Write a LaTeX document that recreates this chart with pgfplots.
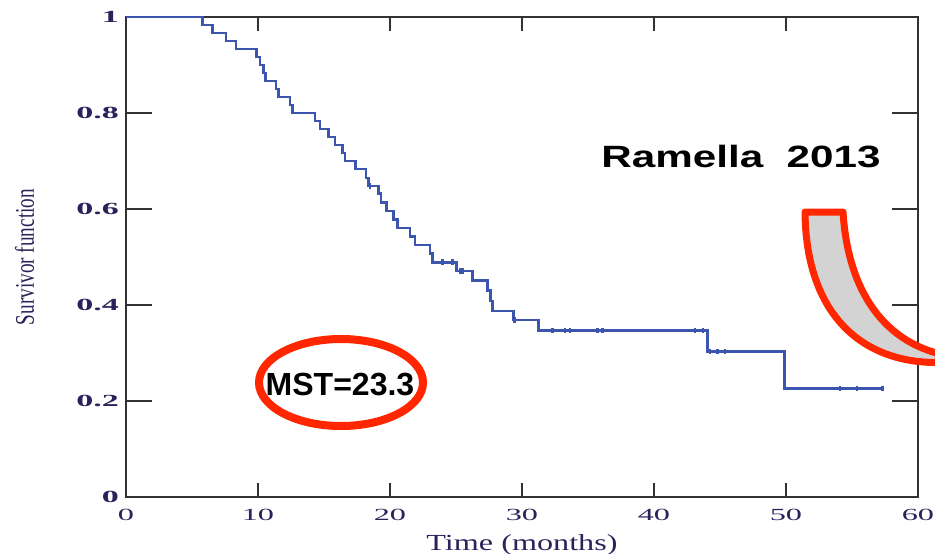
\documentclass[border=0pt]{standalone}
\usepackage{fontspec}
\setmainfont{Liberation Serif}
\newfontfamily\tickfont[FakeStretch=1.9]{Liberation Serif}
\newfontfamily\ytickfont[FakeStretch=2.0]{Liberation Serif}
\newfontfamily\labfont[FakeStretch=1.4]{Liberation Serif}
\newfontfamily\ramfont[FakeStretch=1.37]{Liberation Sans}
\newfontfamily\mstfont{Liberation Sans}
\usepackage{graphicx}
\usepackage{pgfplots}
\pgfplotsset{compat=1.18}
\definecolor{kmblue}{RGB}{60,85,175}
\definecolor{navy}{RGB}{40,35,90}
\definecolor{axgray}{RGB}{50,50,50}
\definecolor{annred}{RGB}{255,38,0}
\definecolor{fillgray}{RGB}{211,211,211}

\pgfplotstableread{
t S
0 1
5.81 0.983
6.57 0.967
7.58 0.95
8.33 0.933
9.90 0.917
10.15 0.90
10.40 0.883
10.58 0.867
11.36 0.85
11.54 0.833
12.42 0.817
12.63 0.80
14.32 0.783
14.70 0.767
15.33 0.75
15.83 0.733
16.41 0.717
16.59 0.70
17.40 0.683
18.20 0.665
18.36 0.648
19.12 0.632
19.32 0.614
19.75 0.596
20.25 0.578
20.56 0.56
21.52 0.543
21.89 0.525
23.03 0.507
23.23 0.489
25.05 0.471
26.26 0.451
27.40 0.43
27.60 0.408
27.78 0.388
29.34 0.369
31.24 0.347
44.07 0.303
49.87 0.226
57.30 0.226
}\kmdata

\pgfplotstableread{
t S
18.48 0.648
23.99 0.489
24.75 0.489
25.35 0.471
25.55 0.471
29.43 0.369
32.32 0.347
33.26 0.347
33.64 0.347
35.71 0.347
36.11 0.347
43.11 0.347
43.69 0.347
44.24 0.303
44.80 0.303
45.38 0.303
54.09 0.226
55.40 0.226
57.30 0.226
}\censdata

\begin{document}
\begin{tikzpicture}
\begin{axis}[
  at={(0,0)}, anchor=south west,
  scale only axis, width=396pt, height=240pt,
  xmin=0, xmax=60, ymin=0, ymax=1,
  xtick={0,10,20,30,40,50,60},
  ytick={0,0.2,0.4,0.6,0.8,1},
  yticklabels={0,0.2,0.4,0.6,0.8,1},
  axis line style={axgray, line width=1pt},
  tick style={axgray, line width=0.9pt},
  xtick style={/pgfplots/major tick length=7pt},
  ytick style={/pgfplots/major tick length=13pt},
  tick align=inside,
  /pgf/number format/assume math mode=true,
  xticklabel style={font=\tickfont\fontsize{8.5}{9}\selectfont, text=navy, yshift=-2.5pt},
  yticklabel style={font=\ytickfont\bfseries\fontsize{8.5}{9}\selectfont, text=navy},
  xlabel={\labfont\fontsize{11.5}{13}\selectfont Time (months)},
  xlabel style={at={(axis description cs:0.5,-0.1104)}, anchor=base, text=navy},
  ylabel={\scalebox{1}[1.4]{\fontsize{9.6}{11}\selectfont Survivor function}},
  ylabel style={at={(axis description cs:-0.128,0.5)}, anchor=center, text=navy},
  clip=false,
]
\addplot[const plot, kmblue, line width=1.25pt] table[x=t, y=S] {\kmdata};
\addplot[only marks, mark=|, mark size=1.4pt, kmblue, mark options={line width=1.2pt}] table[x=t, y=S] {\censdata};
\end{axis}

\begin{scope}[shift={(-63pt,248.5pt)}, x=0.5pt, y=-0.5pt]
  \begin{scope}
    \clip (0,0) rectangle (935,553);
    \draw[annred, fill=fillgray, line width=3.5pt, line join=round]
      (805,212) -- (843,212)
      .. controls (848,292) and (885,345) .. (950,356)
      -- (950,362)
      .. controls (868,368) and (806,320) .. (805,212) -- cycle;
  \end{scope}
  \draw[annred, line width=4pt] (341,382.5) ellipse [x radius=82, y radius=43.5];
  \node[font=\mstfont\bfseries\fontsize{16}{18}\selectfont, anchor=base, inner sep=0pt] at (340,395) {MST=23.3};
  \node[font=\ramfont\bfseries\fontsize{15.4}{18}\selectfont, anchor=base west, inner sep=0pt] at (601,167.3) {Ramella\ \ 2013};
\end{scope}

\pgfresetboundingbox
\path[use as bounding box] (-63pt,-28pt) rectangle (404.5pt,248.5pt);
\end{tikzpicture}
\end{document}
